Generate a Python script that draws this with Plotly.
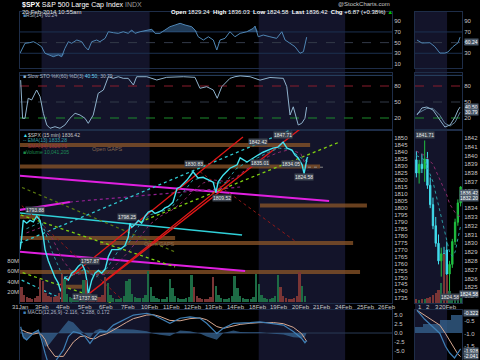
import plotly.graph_objects as go
import numpy as np

W, H = 480, 360
def PX(p): return p / W
def PY(p): return 1 - p / H

FONT = "Liberation Sans"
AX = "#c8c8c8"
BORDER = "#1e2d48"

# ---------------- data ----------------
day_labels = ["31Jan", "3Feb", "4Feb", "5Feb", "6Feb", "7Feb", "10Feb", "11Feb", "12Feb",
              "13Feb", "14Feb", "18Feb", "19Feb", "20Feb", "21Feb", "24Feb", "25Feb", "26Feb"]
shaded_weeks = [(1.0, 6.0), (11.05, 15.05)]

price_t = [0.00, 0.08, 0.15, 0.31, 0.46, 0.62, 0.77, 0.93, 1.08, 1.16, 1.31, 1.47, 1.62, 1.77, 1.88,
           2.08, 2.24, 2.39, 2.55, 2.70, 2.86, 3.01, 3.09, 3.16, 3.32, 3.47, 3.63, 3.78, 3.94, 4.09,
           4.25, 4.40, 4.55, 4.71, 4.86, 5.01, 5.09, 5.17, 5.32, 5.48, 5.63, 5.79, 5.94, 6.10, 6.25,
           6.40, 6.56, 6.71, 6.87, 7.08, 7.27, 7.41, 7.73, 8.01, 8.24, 8.47, 8.70, 8.94, 9.07, 9.17,
           9.40, 9.72, 10.05, 10.19, 10.51, 10.79, 11.02, 11.25, 11.48, 11.71, 11.94, 12.18, 12.36,
           12.59, 12.73, 12.87, 13.06, 13.15, 13.29, 13.33]
price_v = [1770, 1779, 1791, 1789, 1791, 1790, 1794, 1791, 1779, 1770, 1762, 1755, 1750, 1746, 1740,
           1750, 1748, 1753, 1755, 1758, 1760, 1755, 1748, 1738, 1748, 1753, 1755, 1753, 1756, 1765,
           1770, 1770, 1770, 1771, 1773, 1779, 1789, 1786, 1788, 1791, 1789, 1794, 1797, 1798, 1796,
           1797, 1798, 1800, 1801, 1804, 1814, 1815, 1820, 1826, 1821.5, 1822, 1820, 1818.5, 1811, 1818.5,
           1823.5, 1828.5, 1831, 1836, 1833, 1836, 1838, 1840, 1841.5, 1843, 1843.7, 1847.3, 1843,
           1841.5, 1838, 1836, 1831, 1824.6, 1836, 1836.4]
ma_t = [0.3, 1.0, 1.5, 2.0, 2.5, 3.0, 3.5, 4.0, 4.5, 5.0, 5.5, 6.0, 6.5, 7.0, 7.5, 8.0, 8.5, 9.0,
        9.5, 10.0, 10.5, 11.0, 11.5, 12.0, 12.5, 13.0, 13.33]
ema13_v = [1785, 1790, 1768, 1750, 1752, 1756, 1750, 1756, 1768, 1774, 1787, 1795, 1797, 1800, 1810,
           1820, 1822, 1818, 1818, 1828, 1833, 1836, 1840, 1843, 1842, 1836, 1833.28]
sma34_v = [1782, 1786, 1778, 1762, 1752, 1753, 1752, 1752, 1760, 1768, 1778, 1788, 1794, 1798, 1804,
           1812, 1818, 1820, 1819, 1822, 1828, 1832, 1837, 1840, 1842, 1839, 1826.76]

vol_days = [
    [30, 14, 10, 8, 7, 8, 12, 45],
    [40, 18, 12, 10, 10, 12, 18, 55],
    [45, 16, 10, 8, 8, 9, 14, 42],
    [42, 18, 12, 10, 9, 10, 15, 48],
    [38, 14, 9, 7, 7, 8, 12, 40],
    [45, 16, 10, 8, 8, 9, 14, 60],
    [30, 12, 8, 6, 6, 7, 10, 45],
    [28, 12, 8, 7, 6, 8, 11, 52],
    [30, 12, 8, 6, 6, 7, 10, 48],
    [32, 14, 9, 7, 7, 8, 12, 50],
    [28, 12, 8, 6, 6, 7, 10, 55],
    [35, 14, 9, 7, 7, 8, 12, 52],
    [30, 12, 8, 7, 7, 8, 12, 58],
    [32, 12],
]
day_up = [0, 0, 1, 0, 1, 1, 1, 1, 0, 1, 1, 1, 0, 1]

rsi_t = [0, 0.08, 0.23, 0.46, 0.62, 0.77, 1.0, 1.16, 1.39, 1.54, 1.77, 1.93, 2.08, 2.24, 2.39, 2.63,
         2.86, 3.01, 3.16, 3.32, 3.55, 3.70, 3.94, 4.09, 4.32, 4.55, 4.78, 5.01, 5.17, 5.32, 5.56,
         5.87, 6.10, 6.25, 6.48, 6.71, 6.94, 7.18, 7.41, 7.64, 7.95, 8.10, 8.25, 8.49, 8.72, 8.95,
         9.11, 9.26, 9.49, 9.72, 9.95, 10.19, 10.50, 10.80, 10.88, 11.03, 11.26, 11.57, 11.88, 12.12,
         12.27, 12.50, 12.73, 12.96, 13.12, 13.27]
rsi_v = [30, 36, 48.7, 50, 51.7, 48.7, 42.3, 30, 26.8, 23.6, 26.8, 23.6, 39.3, 51.7, 48.7, 54.9,
         51.7, 42.3, 36.1, 51.7, 54.9, 51.7, 58, 70.4, 68.6, 67.4, 70.4, 67.4, 73.6, 67.4, 70.4,
         73.6, 75, 67.4, 67.4, 73.6, 79.8, 83, 86.2, 83, 79.8, 73.6, 61, 54.9, 61, 54.9,
         36.1, 54.9, 58, 70.4, 61, 67.4, 70.4, 76.8, 81, 61, 64.2, 61, 58, 70.4,
         54.9, 48.7, 42.3, 30, 33, 60.24]

sto_t = [0.03, 0.12, 0.23, 0.38, 0.54, 0.77, 0.93, 1.08, 1.24, 1.39, 1.62, 1.85, 2.08, 2.31, 2.55,
         2.78, 3.01, 3.16, 3.39, 3.62, 3.86, 4.09, 4.32, 4.55, 4.78, 5.01, 5.25, 5.40, 5.87, 6.33,
         6.79, 7.56, 8.10, 8.33, 8.64, 8.95, 9.13, 9.34, 9.72, 9.95, 10.19, 10.65, 11.11, 11.57,
         12.19, 12.35, 12.50, 12.65, 12.88, 13.04, 13.19, 13.27]
sto_k = [91, 19.4, 19.4, 57, 53.8, 72.5, 60, 28.8, 6.9, 0.7, 3.7, 0.7, 6.9, 19.4, 28.8,
         25.6, 19.4, 10, 25.6, 66.3, 72.5, 97.4, 94.4, 97.4, 94.4, 94.4, 81.9, 97.4, 97.4, 91.3,
         96.3, 97.4, 96.3, 75.7, 78.7, 72.5, 57, 78.7, 94.4, 97.4, 99, 97.4, 91, 96,
         94.4, 78.7, 25.6, 41, 6.9, 10, 19.4, 40.5]

macd_t = [0.03, 0.15, 0.31, 0.62, 0.85, 1.0, 1.16, 1.31, 1.62, 2.01, 2.24, 2.47, 2.78, 3.01, 3.24,
          3.47, 3.70, 4.01, 4.32, 4.63, 4.94, 5.25, 5.87, 6.17, 6.48, 6.94, 7.41, 7.87, 8.33, 8.64,
          9.11, 9.41, 9.88, 10.19, 10.65, 11.11, 11.73, 12.19, 12.65, 13.04, 13.19, 13.27]
macd_v = [1.75, -1.0, -1.9, 0, 0.8, -1.9, -5.6, -8.5, -8.0, -4.7, -1.0, 0.4, -0.1, -1.0, -2.9,
          -1.0, 0.4, 0.4, 2.2, 3.1, 4.1, 5.0, 5.5, 5.0, 4.1, 2.7, 4.1, 4.5, 4.1, 2.7,
          -0.1, 1.3, 2.7, 2.7, 2.9, 3.1, 2.7, 2.2, 0.4, -1.5, -2.7, -2.116]
macd_sig = [1.0, 0.6, 0.2, -0.3, 0.0, -0.5, -1.8, -4.0, -6.5, -6.5, -4.5, -2.5, -1.0, -0.8, -1.5,
            -1.6, -0.8, -0.2, 0.8, 2.0, 3.0, 4.0, 5.0, 5.1, 4.6, 3.5, 3.4, 4.0, 4.2, 3.7,
            1.8, 1.3, 2.0, 2.4, 2.7, 2.9, 2.9, 2.6, 1.6, -0.2, -1.6, -2.288]
macd_hist = [0.7, -1.6, -2.1, 0.3, 0.8, -1.4, -3.8, -3.5, -1.0, 1.8, 3.5, 2.9, 0.9, -0.2, -1.4,
             0.6, 1.2, 0.6, 1.4, 1.1, 1.1, 1.0, 0.5, -0.1, -0.5, -0.8, 0.7, 0.5, -0.1, -1.0,
             -1.9, 0.0, 0.7, 0.3, 0.2, 0.2, -0.2, -0.4, -1.2, -1.3, -1.1, 0.172]

# trend lines on the price panel: (t0, p0, t1, p1)
magenta_lines = [(-0.93, 1824.3, 14.31, 1804.9), (-0.93, 1769.7, 10.42, 1754.6), (-0.93, 1796.3, 2.31, 1804.2)]
purple_dotted = [(2.31, 1804.2, 10.19, 1815.0)]
cyan_solid = [(-0.93, 1797.7, 10.28, 1780.5)]
cyan_dotted = [(0.0, 1774.7, 15.05, 1872.4), (-0.93, 1755.3, 7.31, 1695.7)]
olive_dotted = [(-0.93, 1821.4, 7.18, 1768.3)]
lime_dotted = [(-0.23, 1796.3, 7.18, 1757.5), (5.56, 1789.8, 14.72, 1846.9), (-0.93, 1758.9, 5.23, 1726.6)]
red_solid = [(1.85, 1744.6, 10.32, 1850.9), (3.01, 1736.0, 13.56, 1863.9), (3.80, 1746.0, 9.72, 1820.0)]
red_dotted = [(-0.93, 1816.4, 5.09, 1728.7), (8.33, 1826.0, 12.73, 1776.2)]
gap_bands = [(1845.2, -0.93, 13.43), (1829.7, -0.93, 13.89), (1801.7, 11.11, 16.06),
             (1778.3, -0.23, 7.18), (1774.7, 3.70, 15.42), (1753.9, -0.93, 15.74),
             (1793.6, -0.23, 0.93), (1743.3, 1.94, 3.01)]
point_labels = [(0.69, 1798.5, "1793.88"), (2.86, 1736.0, "1739.66"), (3.16, 1735.2, "1737.92"),
                (3.25, 1762.1, "1757.87"), (4.94, 1793.3, "1798.25"), (8.07, 1831.5, "1830.83"),
                (9.35, 1807.1, "1809.52"), (11.03, 1847.3, "1842.42"), (11.10, 1832.2, "1835.01"),
                (12.19, 1852.4, "1847.71"), (12.55, 1831.5, "1834.05"), (13.15, 1822.2, "1824.58")]

# right (intraday) panel
r_open = [1839.5, 1838.0, 1839.0, 1838.5, 1839.6, 1836.6, 1834.4, 1832.0, 1830.0, 1828.0, 1828.8,
          1829.24, 1826.5, 1827.6, 1830.2, 1832.4, 1834.6]
r_high = [1840.5, 1839.5, 1840.2, 1841.71, 1840.4, 1837.5, 1835.2, 1833.0, 1831.0, 1829.5, 1829.6,
          1830.2, 1828.0, 1830.5, 1832.8, 1835.0, 1836.5]
r_low = [1837.5, 1836.8, 1838.0, 1837.0, 1836.2, 1834.0, 1831.6, 1829.6, 1827.6, 1826.2, 1827.0,
         1826.0, 1824.58, 1827.2, 1829.8, 1832.0, 1834.2]
r_close = [1838.0, 1839.0, 1838.5, 1839.6, 1836.6, 1834.4, 1832.0, 1830.0, 1828.0, 1828.8, 1828.7,
           1826.5, 1827.6, 1830.2, 1832.4, 1834.6, 1836.42]
r_vol = [4, 3, 4, 4, 5, 6, 8, 10, 13, 20, 48, 28, 12, 7, 6, 5, 5]
r_ma_t = [0, 3, 6, 9, 11, 12, 13, 14, 15, 16]
r_ema_v = [1840, 1839.5, 1837, 1833, 1830.5, 1829, 1828.5, 1829, 1830.5, 1832]
r_sma_v = [1840.5, 1840, 1839, 1837, 1835.5, 1834.5, 1834, 1833.5, 1833.2, 1833]
r_rsi_t = [0.2, 2.0, 4.9, 6.7, 8.5, 10.3, 11.4, 13.2, 15.1, 15.8]
r_rsi_v = [54.9, 49.3, 49.8, 42.3, 30.4, 30.4, 32.4, 42.3, 49.8, 60.24]
r_sto_t = [0.2, 2.0, 3.8, 6.0, 8.5, 10.3, 12.2, 14.0, 15.1, 15.8]
r_sto_k = [25.6, 38.8, 40.6, 35, 16.3, 3.1, 6.9, 21.9, 35, 40.5]
r_sto_d = [28, 33, 38, 38, 25, 10, 5, 12, 25, 30.79]
r_macd_t = [0.2, 3, 6, 8.5, 10.5, 12, 13.8, 15, 16]
r_macd_v = [-0.1, -0.45, -0.75, -1.0, -1.5, -1.75, -1.95, -1.75, -1.6]
r_sig_v = [-0.1, -0.3, -0.5, -0.68, -1.0, -1.25, -1.6, -1.8, -1.9]
r_hist_top = [-0.74, -0.74, -0.74, -0.62, -0.62, -0.62, -0.62, -0.62, -0.62, -0.49, -0.49,
              -0.49, -0.49, -0.3, -0.3, -0.3, -0.3]
r_tick_pos = [1.3, 4.2, 7.6, 11.6]
r_tick_txt = ["1", "2", "3", "20Feb"]

# ---------------- figure ----------------
fig = go.Figure()
XL = [PX(20), PX(392)]
XR = [PX(415), PX(462)]
D_RSI = [PY(68), PY(12)]
D_STO = [PY(130), PY(73)]
D_PRC = [PY(303), PY(130)]
D_MACD = [0, PY(310)]

def line(x, y, xa, ya, color, width=1, dash="solid", **kw):
    fig.add_trace(go.Scatter(x=x, y=y, xaxis=xa, yaxis=ya, mode="lines",
                             line=dict(color=color, width=width, dash=dash),
                             hoverinfo="skip", showlegend=False, **kw))

for a, b in shaded_weeks:
    fig.add_shape(type="rect", xref="x", yref="paper", x0=a, x1=b, y0=0, y1=PY(12),
                  fillcolor="#13142a", line_width=0, layer="below")
fig.add_shape(type="rect", xref="x2", yref="paper", x0=-0.5, x1=11.1, y0=0, y1=PY(12),
              fillcolor="#13142a", line_width=0, layer="below")

for xr, ya, lv, col, dsh in [("x domain", "y", 70, "#1c3150", "solid"), ("x domain", "y", 30, "#1c3150", "solid"),
                             ("x domain", "y", 50, "#333a48", "dash"),
                             ("x domain", "y2", 80, "#8a1c2c", "dash"), ("x domain", "y2", 50, "#333a48", "dash"),
                             ("x domain", "y2", 20, "#1c8a2c", "dash"), ("x domain", "y2", 100, "#2a4566", "solid"),
                             ("x2 domain", "y6", 70, "#1c3150", "solid"), ("x2 domain", "y6", 30, "#1c3150", "solid"),
                             ("x2 domain", "y6", 50, "#333a48", "dash"),
                             ("x2 domain", "y7", 80, "#8a1c2c", "dash"), ("x2 domain", "y7", 50, "#333a48", "dash"),
                             ("x2 domain", "y7", 20, "#1c8a2c", "dash"), ("x2 domain", "y7", 100, "#2a4566", "solid"),
                             ("x domain", "y5", 0, "#2a3a55", "solid")]:
    fig.add_shape(type="line", xref=xr, yref=ya, x0=0, x1=1, y0=lv, y1=lv,
                  line=dict(color=col, width=1, dash=dsh), layer="below")

# RSI
r = np.array(rsi_v)
line(rsi_t, [70] * len(rsi_t), "x", "y", "rgba(0,0,0,0)")
line(rsi_t, np.maximum(r, 70), "x", "y", "rgba(0,0,0,0)", fill="tonexty", fillcolor="rgba(60,110,160,0.55)")
line(rsi_t, [30] * len(rsi_t), "x", "y", "rgba(0,0,0,0)")
line(rsi_t, np.minimum(r, 30), "x", "y", "rgba(0,0,0,0)", fill="tonexty", fillcolor="rgba(60,110,160,0.55)")
line(rsi_t, rsi_v, "x", "y", "#4f86b4", 1)

# Stochastic
line(sto_t, sto_k, "x", "y2", "#8fb2cc", 1)

# volume
vx, vy, vc = [], [], []
for d, vals in enumerate(vol_days):
    for k, v in enumerate(vals):
        vx.append(d + (k + 0.5) / 8)
        vy.append(v * 1e6)
        vc.append("#1d6b45" if day_up[d] else "#7a3535")
fig.add_trace(go.Bar(x=vx, y=vy, xaxis="x", yaxis="y4", marker=dict(color=vc, line_width=0),
                     width=0.11, hoverinfo="skip", showlegend=False))

for p, a, b in gap_bands:
    line([a, b], [p, p], "x", "y3", "rgba(140,85,40,0.75)", 4)

for seg in magenta_lines:
    line([seg[0], seg[2]], [seg[1], seg[3]], "x", "y3", "#e020e0", 2)
for seg in purple_dotted:
    line([seg[0], seg[2]], [seg[1], seg[3]], "x", "y3", "#902090", 1.2, "dot")
for seg in cyan_solid:
    line([seg[0], seg[2]], [seg[1], seg[3]], "x", "y3", "#30d0d8", 1.6)
for seg in cyan_dotted:
    line([seg[0], seg[2]], [seg[1], seg[3]], "x", "y3", "#30c8d0", 1.3, "dot")
for seg in olive_dotted:
    line([seg[0], seg[2]], [seg[1], seg[3]], "x", "y3", "#5a7a10", 1.2, "dot")
for seg in lime_dotted:
    line([seg[0], seg[2]], [seg[1], seg[3]], "x", "y3", "#80d010", 1.3, "dot")
for seg in red_solid:
    line([seg[0], seg[2]], [seg[1], seg[3]], "x", "y3", "#e01818", 1.3)
for seg in red_dotted:
    line([seg[0], seg[2]], [seg[1], seg[3]], "x", "y3", "#901818", 1, "dot")

line(ma_t, sma34_v, "x", "y3", "#8a2a6a", 1, "dot")
line(ma_t, ema13_v, "x", "y3", "#2a9aa0", 1, "dot")
line(price_t, price_v, "x", "y3", "#44e4f0", 1.4)
line([price_t[-1], price_t[-1] + 0.8], [1829.24, 1829.24], "x", "y3", "#888888", 1, "dot")

# MACD
line(macd_t, macd_hist, "x", "y5", "rgba(0,0,0,0)", fill="tozeroy", fillcolor="rgba(55,100,145,0.75)")
line(macd_t, macd_sig, "x", "y5", "#d8a890", 1)
line(macd_t, macd_v, "x", "y5", "#3f7fb5", 1.2)

# right panel
ri = list(range(len(r_open)))
fig.add_trace(go.Bar(x=ri, y=r_vol, xaxis="x2", yaxis="y9",
                     marker=dict(color=["#1d6b45" if c >= o else "#7a3535" for o, c in zip(r_open, r_close)],
                                 line_width=0), width=0.8, hoverinfo="skip", showlegend=False))
line(r_ma_t, r_sma_v, "x2", "y8", "#8a2a6a", 1, "dot")
line(r_ma_t, r_ema_v, "x2", "y8", "#2a9aa0", 1, "dot")
fig.add_trace(go.Candlestick(x=ri, open=r_open, high=r_high, low=r_low, close=r_close, xaxis="x2", yaxis="y8",
                             increasing=dict(line=dict(color="#20c040", width=1), fillcolor="#20c040"),
                             decreasing=dict(line=dict(color="#40dcec", width=1), fillcolor="#40dcec"),
                             whiskerwidth=0, hoverinfo="skip", showlegend=False))
line(r_rsi_t, r_rsi_v, "x2", "y6", "#4f86b4", 1)
line(r_sto_t, r_sto_d, "x2", "y7", "#5f7f98", 1)
line(r_sto_t, r_sto_k, "x2", "y7", "#8fb2cc", 1)
fig.add_trace(go.Bar(x=ri, y=[t + 1.0 for t in r_hist_top], base=-1.0, xaxis="x2", yaxis="y10",
                     marker=dict(color="rgba(55,100,145,0.75)", line_width=0), width=1.0,
                     hoverinfo="skip", showlegend=False))
line(r_macd_t, r_sig_v, "x2", "y10", "#d8a890", 1)
line(r_macd_t, r_macd_v, "x2", "y10", "#3f7fb5", 1.2)

# ---------------- axes ----------------
tf = dict(family=FONT, size=6, color=AX)
common_y = dict(showgrid=False, zeroline=False, showline=True, linecolor=BORDER, mirror=True,
                tickfont=tf, ticks="", fixedrange=True, automargin=False)
fig.update_layout(
    xaxis=dict(domain=XL, range=[0, 17.22], anchor="y3", showticklabels=False, showgrid=False,
               zeroline=False, showline=True, linecolor=BORDER, mirror="all", ticks="", automargin=False),
    yaxis=dict(domain=D_RSI, range=[2.4, 107.4], anchor="x", side="right", tickvals=[10, 30, 50, 70, 90], **common_y),
    yaxis2=dict(domain=D_STO, range=[-2.5, 104.4], anchor="x", side="right", tickvals=[20, 50, 80], **common_y),
    yaxis3=dict(domain=D_PRC, range=[1731.6, 1856.0], anchor="x", side="right",
                tickvals=list(range(1735, 1851, 5)), **common_y),
    yaxis4=dict(overlaying="y3", range=[-1e6, 328.5e6], anchor="x", side="left",
                tickvals=[20e6, 40e6, 60e6, 80e6], ticktext=["20M", "40M", "60M", "80M"],
                showgrid=False, zeroline=False, showline=False, tickfont=tf, ticks="", automargin=False),
    yaxis5=dict(domain=D_MACD, range=[-7.5, 6.4], anchor="x", side="right",
                tickvals=[-5, -2.5, 0, 2.5, 5], ticktext=["-5.0", "-2.5", "0.0", "2.5", "5.0"], **common_y),
    xaxis2=dict(domain=XR, range=[-0.5, 16.5], anchor="y8", showticklabels=False, showgrid=False,
                zeroline=False, showline=True, linecolor=BORDER, mirror="all", ticks="",
                rangeslider=dict(visible=False), automargin=False),
    yaxis6=dict(domain=D_RSI, range=[2.4, 107.4], anchor="x2", side="right", tickvals=[30, 50, 70, 90], **common_y),
    yaxis7=dict(domain=D_STO, range=[-2.5, 104.4], anchor="x2", side="right", tickvals=[20, 50, 80], **common_y),
    yaxis8=dict(domain=D_PRC, range=[1823.2, 1842.9], anchor="x2", side="right",
                tickvals=list(range(1824, 1843)), **common_y),
    yaxis9=dict(overlaying="y8", range=[0, 170], anchor="x2", visible=False),
    yaxis10=dict(domain=D_MACD, range=[-2.03, -0.09], anchor="x2", side="right",
                 tickvals=[-0.5, -1.0, -1.5], ticktext=["-0.5", "-1.0", "-1.5"], **common_y),
)

# ---------------- texts ----------------
ann = []
def txt(x, y, s, size=6, color="#d0d0d0", xanchor="left", **kw):
    ann.append(dict(x=PX(x), y=PY(y), xref="paper", yref="paper", text=s, showarrow=False,
                    xanchor=xanchor, yanchor="middle", font=dict(family=FONT, size=size, color=color), **kw))

for i, s in enumerate(day_labels):
    ann.append(dict(x=i, y=PY(306.5), xref="x", yref="paper", text=s, showarrow=False,
                    xanchor="center", yanchor="middle", font=dict(family=FONT, size=6, color=AX)))
for p, s in zip(r_tick_pos, r_tick_txt):
    ann.append(dict(x=p, y=PY(306.5), xref="x2", yref="paper", text=s, showarrow=False,
                    xanchor="center", yanchor="middle", font=dict(family=FONT, size=6, color=AX)))

txt(20, 5, "<b>$SPX</b> S&P 500 Large Cap Index <span style='color:#9a9a9a'>INDX</span>", 7, "#ffffff")
txt(20, 11.5, "20-Feb-2014 10:55am", 6, "#e0e0e0")
txt(392, 4.5, "@StockCharts.com", 6, "#c8c8c8", "right")
txt(395, 11.5, "<b>Open</b> 1829.24  <b>High</b> 1836.03  <b>Low</b> 1824.58  <b>Last</b> 1836.42  "
               "<b>Chg</b> +6.87 (+0.38%) <span style='color:#00c000'>▲</span>", 6, "#ffffff", "right")
txt(21, 15.5, "<span style='color:#4f86b4'>■</span>RSI(14) 60.24", 5, "#b0b8c8")
txt(21, 75.5, "<span style='color:#8fb2cc'>■</span> Slow STO %K(60) %D(3) <span style='color:#6fd0f0'>40.50</span>, 30.79", 5, "#b0b8c8")
txt(21, 135, "<span style='color:#44e4f0'>▲</span>$SPX (15 min) 1836.42", 5, "#c8c8c8")
txt(21, 140.5, "<span style='color:#30a0a8'>--</span> EMA(13) 1833.28", 5, "#30a0a8")
txt(21, 146, "<span style='color:#a03040'>--</span> SMA(34) 1826.76", 5, "#a03040")
txt(21, 151.5, "<span style='color:#1d8b45'>■</span>Volume 10,041,205", 5, "#1d8b55")
txt(21, 311.5, "<span style='color:#3f7fb5'>■</span> MACD(12,26,9) -2.116, -2.288, 0.172", 5, "#b0b8c8")
txt(90, 148.5, "Open GAPS", 5.5, "#8a6a50")
txt(142, 243.5, "Open GAPS", 5.5, "#8a6a50")

for t, p, s in point_labels:
    ann.append(dict(x=t, y=p, xref="x", yref="y3", text=s, showarrow=False,
                    font=dict(family=FONT, size=5, color="#e8e8e8"), bgcolor="#3c4450", borderpad=0))
ann.append(dict(x=3, y=1842.3, xref="x2", yref="y8", text="1841.71", showarrow=False,
                font=dict(family=FONT, size=5, color="#e8e8e8"), bgcolor="#3c4450", borderpad=0))
ann.append(dict(x=12, y=1823.9, xref="x2", yref="y8", text="1824.58", showarrow=False,
                font=dict(family=FONT, size=5, color="#e8e8e8"), bgcolor="#3c4450", borderpad=0))

for y, s in [(42, "60.24"), (107, "40.50"), (112, "30.79"), (193, "1836.42"), (198, "1832.20"),
             (294, "1824.58"), (313, "-0.322"), (351, "-1.928"), (356, "-2.041")]:
    ann.append(dict(x=PX(479), y=PY(y), xref="paper", yref="paper", text=s, showarrow=False,
                    xanchor="right", yanchor="middle", font=dict(family=FONT, size=5, color="#ffffff"),
                    bgcolor="#4a5868", borderpad=0))

fig.update_layout(annotations=ann, width=W, height=H, margin=dict(l=0, r=0, t=0, b=0),
                  paper_bgcolor="#000000", plot_bgcolor="rgba(0,0,0,0)", showlegend=False,
                  bargap=0, barmode="overlay")
fig.write_html("out.html", config={"displayModeBar": False, "staticPlot": True},
               post_script="document.body.style.margin='0';document.body.style.background='#000';")
